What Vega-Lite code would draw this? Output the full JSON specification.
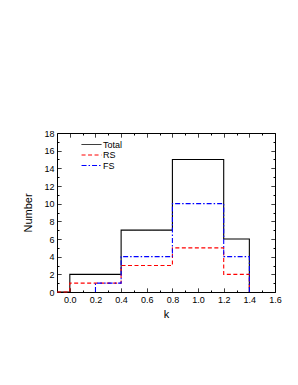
{
  "$schema": "https://vega.github.io/schema/vega-lite/v6.json",
  "width": 218,
  "height": 159,
  "autosize": {"type": "none"},
  "padding": {"left": 57, "top": 133, "right": 23, "bottom": 93},
  "background": "white",
  "config": {
    "font": "Liberation Sans",
    "view": {"stroke": "black", "strokeWidth": 1},
    "axis": {
      "domain": false,
      "grid": false,
      "tickColor": "black",
      "tickWidth": 1,
      "labelColor": "black",
      "labelFontSize": 9,
      "labelFont": "Liberation Sans",
      "titleFont": "Liberation Sans",
      "titleFontSize": 11,
      "titleFontWeight": "normal",
      "titleColor": "black"
    },
    "legend": {
      "orient": "none",
      "legendX": 30,
      "legendY": 7,
      "padding": 0,
      "symbolType": "M-3,0H3",
      "symbolSize": 44,
      "symbolStrokeWidth": 1,
      "labelFontSize": 9,
      "labelFont": "Liberation Sans",
      "labelColor": "black",
      "labelOffset": 7,
      "rowPadding": 0.5,
      "title": null
    }
  },
  "data": {
    "values": [
      {"series": "Total", "k": -0.1, "n": 0, "i": 0},
      {"series": "Total", "k": 0.0, "n": 2, "i": 1},
      {"series": "Total", "k": 0.4, "n": 7, "i": 2},
      {"series": "Total", "k": 0.8, "n": 15, "i": 3},
      {"series": "Total", "k": 1.2, "n": 6, "i": 4},
      {"series": "Total", "k": 1.4, "n": 0, "i": 5},
      {"series": "RS", "k": -0.1, "n": 0, "i": 0},
      {"series": "RS", "k": 0.0, "n": 1, "i": 1},
      {"series": "RS", "k": 0.4, "n": 3, "i": 2},
      {"series": "RS", "k": 0.8, "n": 5, "i": 3},
      {"series": "RS", "k": 1.2, "n": 2, "i": 4},
      {"series": "RS", "k": 1.4, "n": 0, "i": 5},
      {"series": "FS", "k": 0.2, "n": 0, "i": 0},
      {"series": "FS", "k": 0.2, "n": 1, "i": 1},
      {"series": "FS", "k": 0.4, "n": 4, "i": 2},
      {"series": "FS", "k": 0.8, "n": 10, "i": 3},
      {"series": "FS", "k": 1.2, "n": 4, "i": 4},
      {"series": "FS", "k": 1.4, "n": 0, "i": 5}
    ]
  },
  "layer": [
    {
      "transform": [{"filter": "datum.series == 'Total'"}],
      "mark": {"type": "line", "interpolate": "step-after", "strokeWidth": 1.1, "clip": false},
      "encoding": {
        "x": {
          "field": "k", "type": "quantitative",
          "scale": {"domain": [-0.1, 1.6], "nice": false, "zero": false},
          "axis": {
            "orient": "bottom",
            "title": "k",
            "values": [0, 0.1, 0.2, 0.3, 0.4, 0.5, 0.6, 0.7, 0.8, 0.9, 1.0, 1.1, 1.2, 1.3, 1.4, 1.5, 1.6],
            "format": ".1f",
            "labelExpr": "abs(round(datum.value*10)) % 2 == 0 ? datum.label : ''",
            "tickSize": -4,
            "tickDash": {"condition": {"test": "abs(round(datum.value*10)) % 2 == 1", "value": [2, 10]}, "value": [1, 0]},
            "labelPadding": 7,
            "titlePadding": 4,
            "labelFlush": false,
            "labelOverlap": false
          }
        },
        "y": {
          "field": "n", "type": "quantitative",
          "scale": {"domain": [0, 18], "nice": false, "zero": true},
          "axis": {
            "orient": "left",
            "title": "Number",
            "values": [0, 1, 2, 3, 4, 5, 6, 7, 8, 9, 10, 11, 12, 13, 14, 15, 16, 17, 18],
            "labelExpr": "datum.value % 2 == 0 ? datum.label : ''",
            "tickSize": -4,
            "tickDash": {"condition": {"test": "datum.value % 2 == 1", "value": [2, 10]}, "value": [1, 0]},
            "labelPadding": 7,
            "titlePadding": 10,
            "labelFlush": false,
            "labelOverlap": false
          }
        },
        "color": {"field": "series", "type": "nominal", "scale": {"domain": ["Total", "RS", "FS"], "range": ["black", "#ff0000", "#0000ff"]}},
        "strokeDash": {"field": "series", "type": "nominal", "scale": {"domain": ["Total", "RS", "FS"], "range": [[1, 0], [4, 2.5], [5, 2, 1.5, 2]]}},
        "order": {"field": "i", "type": "quantitative"}
      }
    },
    {
      "transform": [{"filter": "datum.series == 'RS'"}],
      "mark": {"type": "line", "interpolate": "step-after", "strokeWidth": 1.1, "clip": false},
      "encoding": {
        "x": {
          "field": "k", "type": "quantitative",
          "axis": {
            "orient": "top",
            "title": null,
            "labels": false,
            "values": [0, 0.1, 0.2, 0.3, 0.4, 0.5, 0.6, 0.7, 0.8, 0.9, 1.0, 1.1, 1.2, 1.3, 1.4, 1.5, 1.6],
            "tickSize": -4,
            "tickDash": {"condition": {"test": "abs(round(datum.value*10)) % 2 == 1", "value": [2, 10]}, "value": [1, 0]}
          }
        },
        "y": {
          "field": "n", "type": "quantitative",
          "axis": {
            "orient": "right",
            "title": null,
            "labels": false,
            "values": [0, 1, 2, 3, 4, 5, 6, 7, 8, 9, 10, 11, 12, 13, 14, 15, 16, 17, 18],
            "tickSize": -4,
            "tickDash": {"condition": {"test": "datum.value % 2 == 1", "value": [2, 10]}, "value": [1, 0]}
          }
        },
        "color": {"field": "series", "type": "nominal"},
        "strokeDash": {"field": "series", "type": "nominal"},
        "order": {"field": "i", "type": "quantitative"}
      }
    },
    {
      "transform": [{"filter": "datum.series == 'FS'"}],
      "mark": {"type": "line", "interpolate": "step-after", "strokeWidth": 1.1, "clip": false},
      "encoding": {
        "x": {"field": "k", "type": "quantitative", "axis": null},
        "y": {"field": "n", "type": "quantitative", "axis": null},
        "color": {"field": "series", "type": "nominal"},
        "strokeDash": {"field": "series", "type": "nominal"},
        "order": {"field": "i", "type": "quantitative"}
      }
    }
  ],
  "resolve": {"axis": {"x": "independent", "y": "independent"}}
}
